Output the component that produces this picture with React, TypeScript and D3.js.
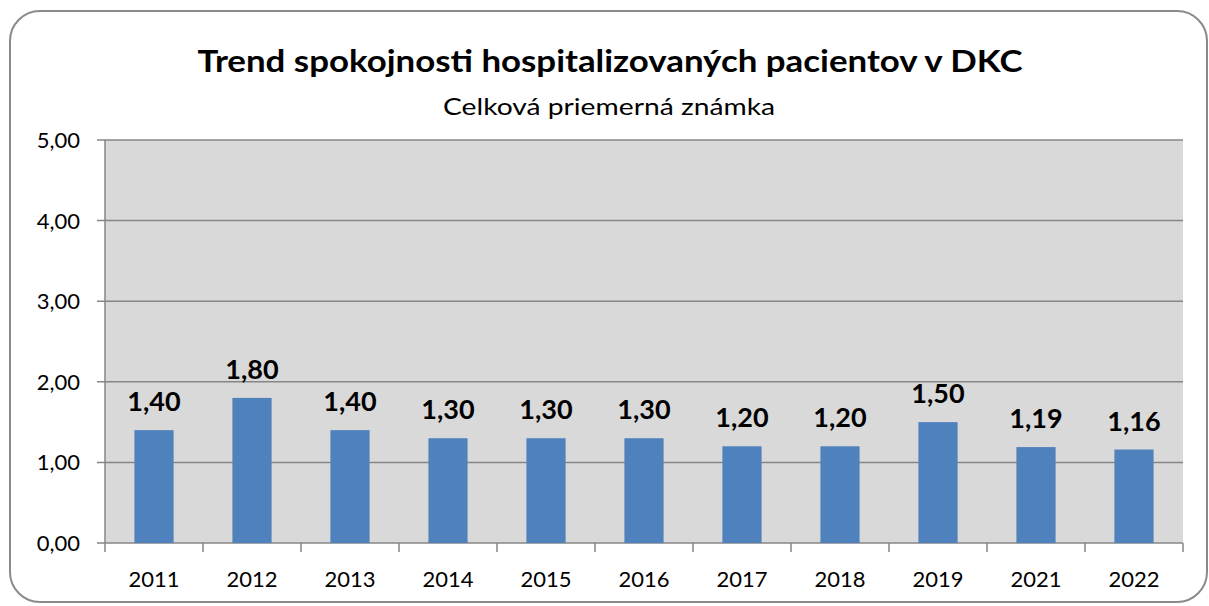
import React from "react";
import * as d3 from "d3";

const categories = ["2011", "2012", "2013", "2014", "2015", "2016", "2017", "2018", "2019", "2021", "2022"];
const values = [1.4, 1.8, 1.4, 1.3, 1.3, 1.3, 1.2, 1.2, 1.5, 1.19, 1.16];
const yTicks = [0, 1, 2, 3, 4, 5];
const title = "Trend spokojnosti hospitalizovaných pacientov v DKC";
const subtitle = "Celková priemerná známka";

const W = 1209;
const H = 606;
const plot = { left: 105, right: 1183, top: 140, bottom: 543 };
const FONT = "Lato, 'Open Sans', sans-serif";

const fmt = (v: number) => v.toFixed(2).replace(".", ",");

export default function App() {
  const x = d3.scaleBand<string>().domain(categories).range([plot.left, plot.right]).paddingInner(0.6).paddingOuter(0.3);
  const xb = d3.scaleBand<string>().domain(categories).range([plot.left, plot.right]);
  const y = d3.scaleLinear().domain([0, 5]).range([plot.bottom, plot.top]);
  const grid = "#868686";
  const boundaries = d3.range(categories.length + 1).map((i) => plot.left + i * xb.step());

  return (
    <svg width={W} height={H} style={{ position: "absolute", left: 0, top: 0 }} fontFamily={FONT}>
      <rect x={0} y={0} width={W} height={H} fill="#fff" />
      <rect x={10} y={11} width={1197} height={591} rx={30} ry={30} fill="#fff" stroke="#8a8a8a" strokeWidth={2} />
      <text x={610} y={72} textAnchor="middle" fontWeight="bold" fontSize={31} fill="#000" textLength={825} lengthAdjust="spacingAndGlyphs">
        {title}
      </text>
      <text x={609} y={115} textAnchor="middle" fontSize={23} fill="#000" textLength={332} lengthAdjust="spacingAndGlyphs">
        {subtitle}
      </text>
      <rect x={plot.left} y={plot.top} width={plot.right - plot.left} height={plot.bottom - plot.top} fill="#d9d9d9" />
      {yTicks.map((t) => (
        <g key={t}>
          <line x1={97} x2={plot.right} y1={y(t)} y2={y(t)} stroke={grid} strokeWidth={1.5} />
          <text x={80} y={y(t) + 8} textAnchor="end" fontSize={22} fill="#000">
            {fmt(t)}
          </text>
        </g>
      ))}
      <line x1={plot.left} x2={plot.left} y1={plot.top} y2={plot.bottom} stroke={grid} strokeWidth={1.5} />
      {boundaries.map((bx, i) => (
        <line key={i} x1={bx} x2={bx} y1={plot.bottom} y2={plot.bottom + 9} stroke={grid} strokeWidth={1.5} />
      ))}
      {categories.map((c, i) => (
        <g key={c}>
          <rect x={x(c)} y={y(values[i])} width={x.bandwidth()} height={plot.bottom - y(values[i])} fill="#4f81bd" />
          <text x={(xb(c) as number) + xb.bandwidth() / 2} y={y(values[i]) - 19} textAnchor="middle" fontWeight="bold" fontSize={27} fill="#000">
            {fmt(values[i])}
          </text>
          <text x={(xb(c) as number) + xb.bandwidth() / 2} y={587} textAnchor="middle" fontSize={22} fill="#000">
            {c}
          </text>
        </g>
      ))}
    </svg>
  );
}
